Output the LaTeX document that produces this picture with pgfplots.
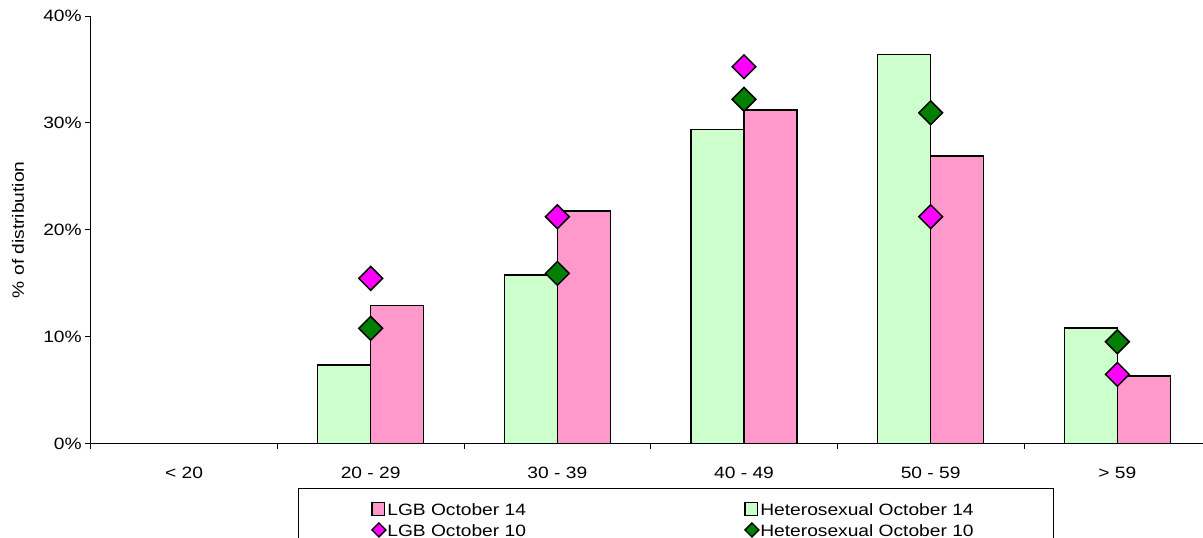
\documentclass[border=0pt]{standalone}
\usepackage{pgfplots}
\pgfplotsset{compat=1.18}
\usepackage{fontspec}
\setmainfont{Liberation Sans}[FakeStretch=1.17]
\definecolor{hetbar}{HTML}{CCFFCC}
\definecolor{lgbbar}{HTML}{FF99CC}
\definecolor{lgbmark}{HTML}{FF00FF}
\definecolor{hetmark}{HTML}{008000}
\pgfplotsset{
  barleg/.style={legend image code/.code={\draw[fill=#1, draw=black, line width=1.3bp] (0.65bp,-0.35bp) rectangle (13.35bp,12.65bp); \path[draw=none, fill=none] (0bp,0bp) rectangle (16bp,1bp);}},
  markleg/.style={legend image code/.code={\path[draw=none, fill=none, only marks, mark=square*, mark size=4.95bp, mark options={rotate=45, fill=#1, draw=black, line width=1.3bp}] plot coordinates {(7.6bp,6.3bp)}; \path[draw=none, fill=none] (0bp,0bp) rectangle (16bp,1bp);}},
}
\begin{document}
\begin{tikzpicture}[font=\fontsize{16.4bp}{19bp}\selectfont]
\begin{axis}[
  name=ax,
  width=1120bp, height=427.5bp, scale only axis,
  xmin=-0.5, xmax=5.5, ymin=0, ymax=40,
  axis x line*=bottom, axis y line*=left,
  axis line style={line width=0.8bp, draw=black},
  xtick={-0.5,0.5,...,5.5},
  xticklabels={< 20, 20 - 29, 30 - 39, 40 - 49, 50 - 59, > 59},
  x tick label as interval,
  x tick label style={text height=11.7bp, yshift=-14.5bp},
  ytick={0,10,20,30,40},
  yticklabels={0\%,10\%,20\%,30\%,40\%},
  tick align=outside, major tick length=5.5bp,
  tick style={line width=0.8bp, black},
  ylabel={\% of distribution},
  ylabel style={at={(axis description cs:-0.065,0.5)}, anchor=center},
  clip=false,
  legend columns=2,
  legend style={at={(0.1854,-0.1047)}, anchor=north west, draw=black, line width=1bp,
    inner xsep=72.5bp, inner ysep=13.2bp, row sep=6.3bp,
    nodes={inner sep=0pt, text height=13.5bp, text depth=0bp, anchor=base west}},
]
\addplot[ybar, bar width=53bp, bar shift=26.5bp, fill=lgbbar, draw=black, line width=1.6bp, barleg=lgbbar]
  coordinates {(1,12.93) (2,21.78) (3,31.2) (4,26.92) (5,6.31)};
\addlegendentry{\makebox[357bp][l]{LGB October 14}}
\addplot[ybar, bar width=53bp, bar shift=-26.5bp, fill=hetbar, draw=black, line width=1.6bp, barleg=hetbar]
  coordinates {(1,7.34) (2,15.76) (3,29.39) (4,36.41) (5,10.78)};
\addlegendentry{\makebox[221bp][l]{Heterosexual October 14}}
\addplot[only marks, mark=square*, mark size=8.4bp,
  mark options={rotate=45, fill=lgbmark, draw=black, line width=1.5bp}, markleg=lgbmark]
  coordinates {(1,15.45) (2,21.22) (3,35.25) (4,21.22) (5,6.47)};
\addlegendentry{LGB October 10}
\addplot[only marks, mark=square*, mark size=8.4bp,
  mark options={rotate=45, fill=hetmark, draw=black, line width=1.5bp}, markleg=hetmark]
  coordinates {(1,10.78) (2,15.92) (3,32.2) (4,30.94) (5,9.52)};
\addlegendentry{Heterosexual October 10}
\end{axis}
\pgfresetboundingbox
\useasboundingbox ([shift={(-90.7bp,-94.5bp)}]ax.south west) rectangle ([shift={(1112.3bp,16bp)}]ax.north west);
\end{tikzpicture}
\end{document}
